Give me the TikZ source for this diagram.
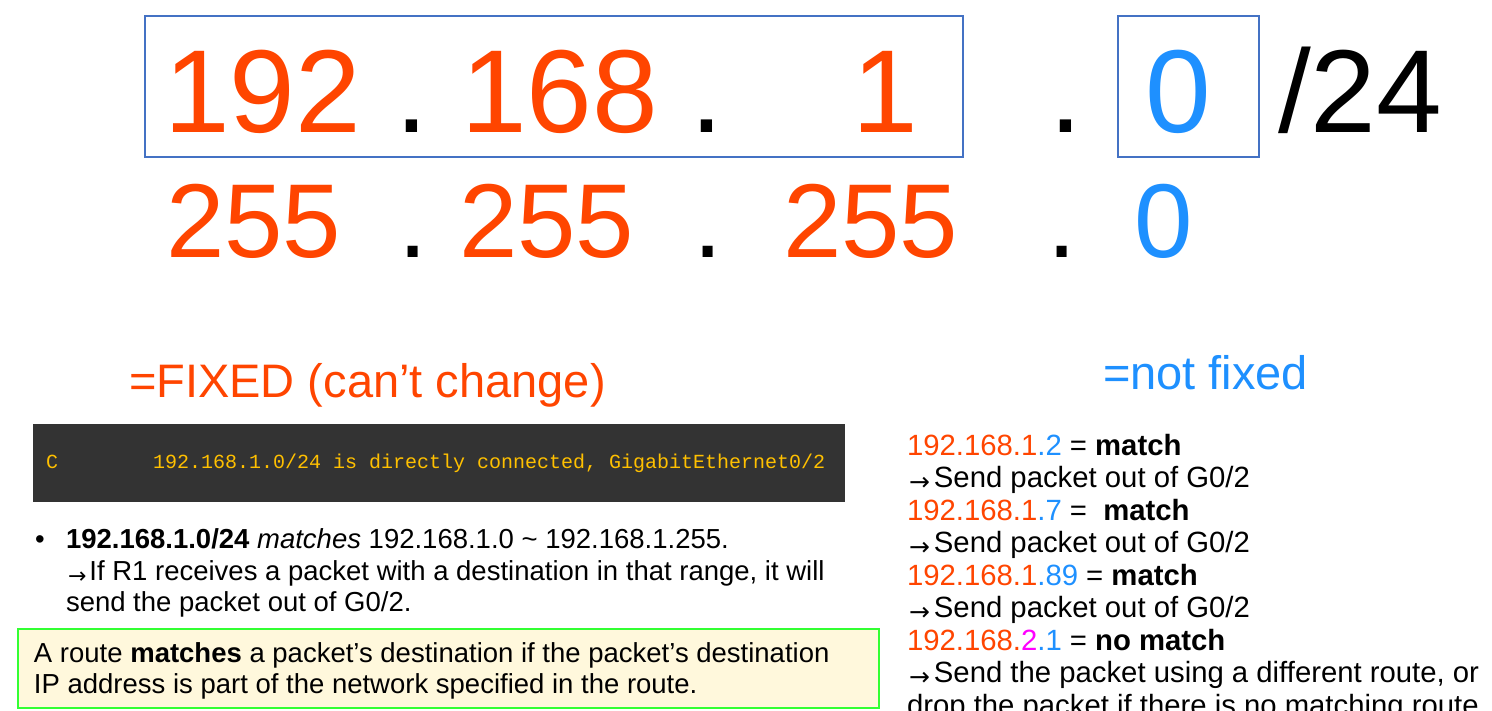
\documentclass[tikz,border=0pt]{standalone}
\usepackage{fontspec}
\setmainfont{Liberation Sans}
\setmonofont{Liberation Mono}
\newfontfamily\arrfont{DejaVu Sans}
\definecolor{ored}{HTML}{FF4500}
\definecolor{dblue}{HTML}{1E90FF}
\definecolor{mag}{HTML}{FF00FF}
\definecolor{boxblue}{HTML}{4472C4}
\definecolor{consolebg}{HTML}{333333}
\definecolor{consoletx}{HTML}{FFC000}
\definecolor{notebg}{HTML}{FFF8DC}
\definecolor{notegreen}{HTML}{33FF33}
\newcommand{\sarrL}{\hspace*{2pt}\raisebox{-3pt}{\arrfont\fontsize{22}{22}\selectfont →}\hspace{3pt}}
\newcommand{\sarrR}{\hspace*{2pt}\raisebox{-3pt}{\arrfont\fontsize{25}{25}\selectfont →}\hspace{4pt}}
\begin{document}
\begin{tikzpicture}[x=1pt,y=-1pt,
  txt/.style={anchor=base west, inner sep=0pt, outer sep=0pt},
  bigA/.style={txt, font=\fontsize{118}{118}\selectfont},
  bigB/.style={txt, font=\fontsize{105}{105}\selectfont},
  ipbox/.style={draw=boxblue, line width=2pt},
  body/.style={txt, font=\fontsize{27.5}{27.5}\selectfont},
  rbody/.style={txt, font=\fontsize{29.3}{29.3}\selectfont},
  cons/.style={txt, font=\ttfamily\fontsize{20}{20}\selectfont, text=consoletx}]
\clip (0,0) rectangle (1492,711);
\fill[white] (0,0) rectangle (1492,711);

% address boxes
\draw[ipbox] (145,16) rectangle (963,157);
\draw[ipbox] (1118,16) rectangle (1259,157);

% row 1
\node[bigA, text=ored] (a1) at (164,133) {192};
\node[bigA] (d1) at (395,133) {.};
\node[bigA, text=ored] (a2) at (461,133) {168};
\node[bigA] (d2) at (690,133) {.};
\node[bigA, text=ored] (a3) at (852,133) {1};
\node[bigA] (d3) at (1049,133) {.};
\node[bigA, text=dblue] (a4) at (1145,133) {0};
\node[bigA] (pfx) at (1278,133) {/24};

% row 2
\node[bigB, text=ored] (m1) at (166,258) {255};
\node[bigB] (e1) at (398,258) {.};
\node[bigB, text=ored] (m2) at (459,258) {255};
\node[bigB] (e2) at (693,258) {.};
\node[bigB, text=ored] (m3) at (783,258) {255};
\node[bigB] (e3) at (1047,258) {.};
\node[bigB, text=dblue] (m4) at (1134,258) {0};

% labels
\node[txt, font=\fontsize{47}{47}\selectfont, text=ored] (fixed) at (129,398) {=FIXED (can’t change)};
\node[txt, font=\fontsize{47}{47}\selectfont, text=dblue] (notfixed) at (1103,390) {=not fixed};

% console
\fill[consolebg] (33,424) rectangle (845,502);
\node[cons] (cc) at (46,468) {C};
\node[cons] (ctext) at (153,468) {192.168.1.0/24 is directly connected, GigabitEthernet0/2};

% bullet
\node[body] (bul) at (35,548) {•};
\node[body] (b1) at (66,548) {\textbf{192.168.1.0/24} \textit{matches} 192.168.1.0 \textasciitilde{} 192.168.1.255.};
\node[body] (b2) at (66,580) {\sarrL If R1 receives a packet with a destination in that range, it will};
\node[body] (b3) at (66,611) {send the packet out of G0/2.};

% note box
\draw[fill=notebg, draw=notegreen, line width=2.5pt] (18,629) rectangle (879,708);
\node[body] (n1) at (34,662) {A route \textbf{matches} a packet’s destination if the packet’s destination};
\node[body] (n2) at (34,693) {IP address is part of the network specified in the route.};

% right column
\node[rbody] (r1) at (907,455) {\textcolor{ored}{192.168.1}\textcolor{dblue}{.2} = \textbf{match}};
\node[rbody] (r2) at (907,487.5) {\sarrR Send packet out of G0/2};
\node[rbody] (r3) at (907,520) {\textcolor{ored}{192.168.1}\textcolor{dblue}{.7} = \ \textbf{match}};
\node[rbody] (r4) at (907,552.5) {\sarrR Send packet out of G0/2};
\node[rbody] (r5) at (907,585) {\textcolor{ored}{192.168.1}\textcolor{dblue}{.89} = \textbf{match}};
\node[rbody] (r6) at (907,617.5) {\sarrR Send packet out of G0/2};
\node[rbody] (r7) at (907,650) {\textcolor{ored}{192.168.}\textcolor{mag}{2}\textcolor{dblue}{.1} = \textbf{no match}};
\node[rbody] (r8) at (907,682.5) {\sarrR Send the packet using a different route, or};
\node[rbody] (r9) at (907,715) {drop the packet if there is no matching route.};
\end{tikzpicture}
\end{document}
